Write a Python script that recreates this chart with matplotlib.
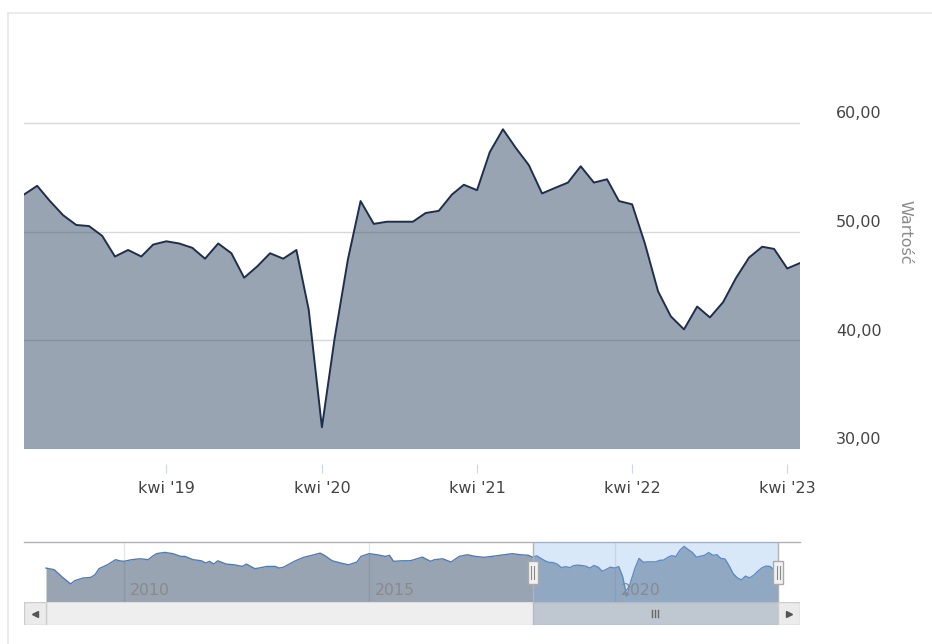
import matplotlib
matplotlib.use("Agg")
import matplotlib.pyplot as plt
import matplotlib.dates as mdates
from matplotlib.patches import Rectangle
from matplotlib.lines import Line2D
from matplotlib.transforms import ScaledTranslation, blended_transform_factory
import numpy as np
import pandas as pd

plt.rcParams['font.family'] = ['DejaVu Sans']

# Dane miesieczne (glowny wykres) maj 2018 - maj 2023
daty = pd.date_range('2018-05-01', periods=61, freq='MS')
wartosci = [53.4, 54.2, 52.8, 51.5, 50.6, 50.5, 49.6, 47.7, 48.3, 47.7,
            48.8, 49.1, 48.9, 48.5, 47.5, 48.9, 48.0, 45.75, 46.8, 48.0,
            47.5, 48.3, 42.8, 32.0, 40.2, 47.4, 52.8, 50.7, 50.9, 50.9,
            50.9, 51.7, 51.9, 53.4, 54.3, 53.8, 57.3, 59.4, 57.7, 56.1,
            53.5, 54.0, 54.5, 56.0, 54.5, 54.8, 52.8, 52.5, 48.9, 44.5,
            42.2, 41.0, 43.1, 42.1, 43.5, 45.7, 47.6, 48.6, 48.4, 46.6,
            47.1]

nav_przesuniecia = [0, 2, 3, 4, 6, 7, 9, 11, 12, 13, 15, 17, 18, 19, 21, 23, 25, 26, 27, 29,
                    31, 33, 34, 36, 38, 39, 40, 41, 42, 44, 46, 48, 49, 51, 52, 54, 56, 57, 58, 61,
                    63, 65, 67, 68, 70, 72, 74, 76, 77, 79, 81, 83, 84, 85, 87, 89, 90, 92, 94, 95,
                    97, 99, 101, 103, 105, 107, 109, 111, 114, 116, 118]
nav_wartosci = [47.5, 46.6, 44.5, 42.5, 38.8, 40.6, 42.0, 42.4, 43.9, 47.2,
                49.3, 52.1, 51.5, 51.2, 52.1, 52.6, 52.1, 53.9, 55.4, 56.1,
                55.4, 53.9, 53.9, 52.1, 51.5, 50.3, 51.2, 49.7, 51.5, 49.7,
                49.3, 48.4, 49.7, 47.2, 47.5, 48.4, 48.4, 47.5, 47.9, 51.5,
                53.4, 54.5, 55.7, 54.5, 51.5, 50.3, 49.3, 50.8, 53.9, 55.4,
                54.8, 53.9, 54.5, 51.2, 51.5, 51.5, 52.1, 53.5, 51.2, 52.1,
                52.6, 50.8, 53.9, 54.8, 53.9, 53.4, 53.9, 54.5, 55.4, 54.8,
                54.5]
nav_start = pd.Timestamp('2008-06-01')

y_ticki = [30, 40, 50, 60]
y_etykiety = ['30,00', '40,00', '50,00', '60,00']
x_ticki = pd.to_datetime(['2019-04-01', '2020-04-01', '2021-04-01', '2022-04-01', '2023-04-01'])
x_etykiety = ["kwi '19", "kwi '20", "kwi '21", "kwi '22", "kwi '23"]
nav_lata = [2010, 2015, 2020]

W, H = 932, 644
kolor_wypelnienia = '#344a66'
kolor_linii = '#1e2f4d'
kolor_siatki = '#d9d9d9'

fig = plt.figure(figsize=(W / 100, H / 100), dpi=100)

# ramka kontenera
fig.add_artist(Line2D([8 / W, 8 / W], [0, 1 - 13 / H], color='#e8e8e8', lw=1.2))
fig.add_artist(Line2D([8 / W, 1], [1 - 13 / H, 1 - 13 / H], color='#e8e8e8', lw=1.2))

# Glowny wykres
ax = fig.add_axes([24 / W, 1 - 449 / H, 776 / W, 435 / H])
ax.fill_between(daty, wartosci, 0, color=kolor_wypelnienia, alpha=0.5, lw=0, zorder=2)
ax.plot(daty, wartosci, color=kolor_linii, lw=1.4, zorder=3)
ax.set_xlim(daty[0], daty[-1])
ax.set_ylim(30, 70)
for v in y_ticki:
    ax.axhline(v, color=kolor_siatki, lw=1, zorder=1)
ax.set_yticks([])
for v, lab in zip(y_ticki, y_etykiety):
    ax.annotate(lab, xy=(1, v), xycoords=('axes fraction', 'data'),
                xytext=(36 * 0.72, 9 * 0.72), textcoords='offset points',
                ha='left', va='center', fontsize=11.5, color='#444444')
for s in ['top', 'right', 'left']:
    ax.spines[s].set_visible(False)
ax.spines['bottom'].set_position(('outward', 15 * 0.72))
ax.spines['bottom'].set_visible(False)
ax.set_xticks(x_ticki)
ax.set_xticklabels(x_etykiety)
ax.tick_params(axis='x', length=9 * 0.72, width=0.8, color='#ccd6eb',
               pad=6, labelsize=11.5, labelcolor='#444444')
fig.text(905 / W, 1 - 232 / H, 'Wartość', rotation=270, ha='center', va='center',
         fontsize=11.5, color='#8a8a8a')

# Nawigator
nav_daty = [nav_start + pd.DateOffset(months=m) for m in nav_przesuniecia] + list(daty)
nav_vals = nav_wartosci + wartosci
d0 = mdates.date2num(nav_start)
d1 = mdates.date2num(daty[-1])
px_na_dzien = 732 / (d1 - d0)
xlim_nav = (d0 - 22 / px_na_dzien, d1 + 22 / px_na_dzien)
sel0 = mdates.date2num(daty[0])

nav = fig.add_axes([24 / W, 1 - 602 / H, 776 / W, 60 / H])
nav.fill_between(nav_daty, nav_vals, 0, color=kolor_wypelnienia, alpha=0.5, lw=0, zorder=2)
nav.plot(nav_daty, nav_vals, color='#4f7bb4', lw=1, zorder=3)
nav.set_xlim(xlim_nav)
nav.set_ylim(28.9, 61.8)
nav.axvspan(sel0, d1, color=(128 / 255, 179 / 255, 236 / 255), alpha=0.3, lw=0, zorder=4)
for rok in nav_lata:
    xd = mdates.date2num(pd.Timestamp(f'{rok}-01-01'))
    nav.axvline(xd, color='#e6e6e6', lw=1, zorder=1)
    nav.annotate(str(rok), xy=(xd, 0.117), xycoords=('data', 'axes fraction'),
                 xytext=(6 * 0.72, 0), textcoords='offset points',
                 ha='left', va='baseline', fontsize=11.3, color='#8a8a8a', zorder=6)
nav.set_xticks([])
nav.set_yticks([])
for s in ['bottom', 'right', 'left']:
    nav.spines[s].set_visible(False)
nav.spines['top'].set_color('#b2b1b6')
nav.spines['top'].set_linewidth(1)
nav.axvline(sel0, color='#b2b1b6', lw=1, zorder=5)
nav.axvline(d1, color='#b2b1b6', lw=1, zorder=5)

# uchwyty
mieszany = blended_transform_factory(nav.transData, nav.transAxes)
for xd in [sel0, d1]:
    tr = fig.dpi_scale_trans + ScaledTranslation(xd, 0.5, mieszany)
    nav.add_patch(Rectangle((-0.05, -0.115), 0.10, 0.23, transform=tr,
                            facecolor='#f2f2f2', edgecolor='#aaaaaa', lw=1, zorder=7,
                            clip_on=False))
    for dx in [-0.015, 0.015]:
        nav.add_artist(Line2D([dx, dx], [-0.065, 0.065], transform=tr,
                              color='#888888', lw=0.8, zorder=8, clip_on=False))

# Pasek przewijania
sc = fig.add_axes([24 / W, 1 - 625 / H, 776 / W, 23 / H])
sc.set_xlim(xlim_nav)
sc.set_ylim(0, 1)
sc.add_patch(Rectangle((d0, 0), d1 - d0, 1, facecolor='#eeeeee', edgecolor='#e0e0e0', lw=1))
sc.add_patch(Rectangle((sel0, 0), d1 - sel0, 1, facecolor='#bfc8d1', edgecolor='#b3bcc6', lw=1))
sc.add_patch(Rectangle((xlim_nav[0], 0), d0 - xlim_nav[0], 1, facecolor='#ebebeb',
                       edgecolor='#cccccc', lw=1))
sc.add_patch(Rectangle((d1, 0), xlim_nav[1] - d1, 1, facecolor='#ebebeb',
                       edgecolor='#cccccc', lw=1))
sc.plot([(xlim_nav[0] + d0) / 2], [0.5], marker='<', ms=4, color='#555555', lw=0)
sc.plot([(xlim_nav[1] + d1) / 2], [0.5], marker='>', ms=4, color='#555555', lw=0)
srodek = (sel0 + d1) / 2
tr = fig.dpi_scale_trans + ScaledTranslation(srodek, 0.5, sc.transData)
for dx in [-0.03, 0, 0.03]:
    sc.add_artist(Line2D([dx, dx], [-0.035, 0.035], transform=tr, color='#666666', lw=1))
sc.axis('off')

fig.savefig('out.png', dpi=100)
